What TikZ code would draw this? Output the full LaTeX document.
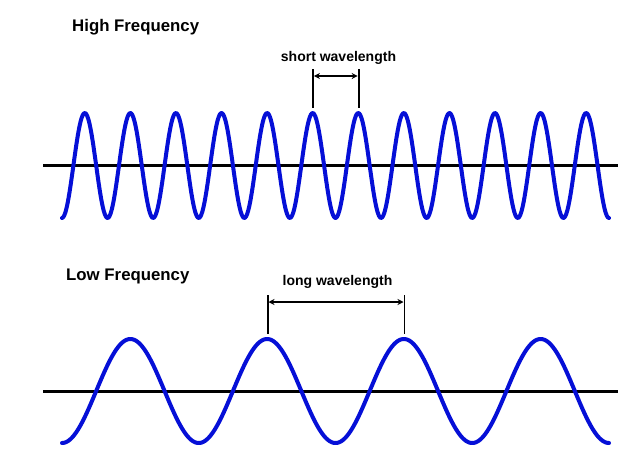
\documentclass[tikz,border=0pt]{standalone}
\usepackage{fontspec}
\setmainfont{Liberation Sans}
\usetikzlibrary{arrows.meta}
\definecolor{waveblue}{RGB}{5,15,215}
\tikzset{
  wave/.style={draw=waveblue, line width=4pt, line cap=round, line join=round},
  axisline/.style={draw=black, line width=2.8pt},
  dimline/.style={draw=black, line width=1.8pt},
  dimarrow/.style={draw=black, line width=1.3pt, {Stealth[length=6pt,width=6pt]}-{Stealth[length=6pt,width=6pt]}},
  title/.style={font=\fontsize{16.8}{20}\selectfont\bfseries, inner sep=0pt},
  lbl/.style={font=\fontsize{14}{17}\selectfont\bfseries, inner sep=0pt}
}
\begin{document}
\begin{tikzpicture}[x=1pt,y=-1pt]
\useasboundingbox[fill=white] (0,0) rectangle (637,463);
% High frequency
\node[title, anchor=west] (hf) at (72,27) {High Frequency};
\coordinate (ha1) at (43,165.5);
\coordinate (ha2) at (618,165.5);
\draw[axisline] (ha1) -- (ha2);
\draw[wave] plot[domain=62:609, samples=500, smooth] (\x, {165.5+52.5*cos(7.8982*(\x-62))});
\coordinate (st1) at (313,69);
\coordinate (sb1) at (313,108);
\coordinate (st2) at (358.6,69);
\coordinate (sb2) at (358.6,108);
\draw[dimline] (st1) -- (sb1);
\draw[dimline] (st2) -- (sb2);
\coordinate (sa1) at (313.9,76);
\coordinate (sa2) at (357.7,76);
\draw[dimarrow] (sa1) -- (sa2);
\node[lbl] (sw) at (338.5,58) {short wavelength};
% Low frequency
\node[title, anchor=west] (lf) at (66,276) {Low Frequency};
\coordinate (la1) at (43,391.5);
\coordinate (la2) at (618,391.5);
\draw[axisline] (la1) -- (la2);
\draw[wave] plot[domain=62:609, samples=500, smooth] (\x, {391+52*cos(2.6325*(\x-62))});
\coordinate (lt1) at (267.6,295);
\coordinate (lb1) at (267.6,334);
\coordinate (lt2) at (404.4,295);
\coordinate (lb2) at (404.4,334);
\draw[dimline] (lt1) -- (lb1);
\draw[dimline] (lt2) -- (lb2);
\coordinate (lw1) at (268.5,302);
\coordinate (lw2) at (403.5,302);
\draw[dimarrow] (lw1) -- (lw2);
\node[lbl] (lwl) at (337.5,282) {long wavelength};
\end{tikzpicture}
\end{document}
